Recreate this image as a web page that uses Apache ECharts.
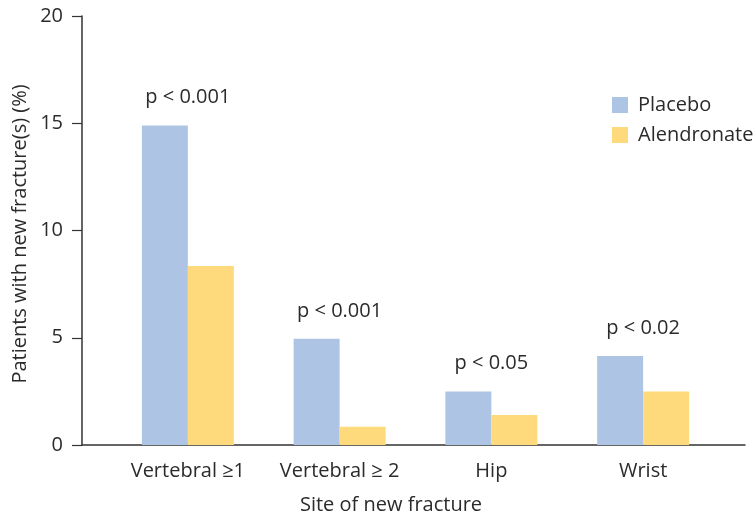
<!DOCTYPE html>
<html>
<head>
<meta charset="utf-8">
<script src="https://cdn.jsdelivr.net/npm/echarts@6/dist/echarts.min.js"></script>
<style>
  html, body { margin: 0; padding: 0; background: #fff; }
  #chart { width: 756px; height: 517px; }
</style>
</head>
<body>
<div id="chart"></div>
<script>
// Fracture sites and percentages of patients with new fractures
const categories = ['Vertebral \u22651', 'Vertebral \u2265 2', 'Hip', 'Wrist'];
const placebo = [14.9, 4.95, 2.5, 4.15];
const alendronate = [8.35, 0.85, 1.4, 2.5];
const pLabels = ['p < 0.001', 'p < 0.001', 'p < 0.05', 'p < 0.02'];
const yTicks = [0, 5, 10, 15, 20];

const FONT = '"Open Sans", "Noto Sans", sans-serif';
const TEXT = '#2b2b2b';
const FS = 20;

const chart = echarts.init(document.getElementById('chart'), null, { renderer: 'canvas' });

chart.setOption({
  animation: false,
  backgroundColor: '#ffffff',
  textStyle: { fontFamily: FONT, color: TEXT },
  grid: [
    // plotting area for the bars
    { left: 112, right: 37, top: 16, bottom: 72 },
    // full-width frame used for the horizontal baseline
    { left: 82, right: 11, top: 16, bottom: 72 }
  ],
  legend: {
    data: ['Placebo', 'Alendronate'],
    orient: 'vertical',
    left: 607,
    top: 90,
    itemWidth: 16,
    itemHeight: 16,
    itemGap: 10,
    icon: 'rect',
    textStyle: { fontFamily: FONT, fontSize: FS, color: TEXT, padding: [0, 0, 0, 5] }
  },
  xAxis: [
    {
      type: 'category',
      gridIndex: 0,
      data: categories,
      axisLine: { show: false },
      axisTick: { show: false },
      axisLabel: {
        interval: 0,
        hideOverlap: false,
        fontFamily: FONT,
        fontSize: FS,
        color: TEXT,
        margin: 16
      }
    },
    {
      type: 'value',
      gridIndex: 1,
      min: 0,
      max: 1,
      axisLine: { show: true, lineStyle: { color: '#333333', width: 1.5 } },
      axisTick: { show: false },
      axisLabel: { show: false },
      splitLine: { show: false }
    }
  ],
  yAxis: [
    {
      type: 'value',
      gridIndex: 0,
      min: yTicks[0],
      max: yTicks[yTicks.length - 1],
      interval: 5,
      offset: 30,
      axisLine: { show: true, lineStyle: { color: '#333333', width: 1.5 } },
      axisTick: { show: true, length: 10, lineStyle: { color: '#333333', width: 1.2 } },
      axisLabel: { fontFamily: FONT, fontSize: FS, color: TEXT, margin: 19 },
      splitLine: { show: false }
    },
    {
      type: 'value',
      gridIndex: 1,
      min: 0,
      max: 1,
      show: false
    }
  ],
  series: [
    {
      name: 'Placebo',
      type: 'bar',
      xAxisIndex: 0,
      yAxisIndex: 0,
      data: placebo,
      barWidth: 46,
      barGap: '0%',
      itemStyle: { color: '#aec4e5' }
    },
    {
      name: 'Alendronate',
      type: 'bar',
      xAxisIndex: 0,
      yAxisIndex: 0,
      data: alendronate,
      barWidth: 46,
      barGap: '0%',
      itemStyle: { color: '#ffda7d' }
    },
    {
      // significance annotations above each site
      name: 'p',
      type: 'scatter',
      xAxisIndex: 0,
      yAxisIndex: 0,
      data: placebo,
      symbolSize: 0,
      silent: true,
      itemStyle: { opacity: 1 },
      label: {
        show: true,
        position: 'inside',
        offset: [0, -28],
        fontFamily: FONT,
        fontSize: FS,
        color: TEXT,
        opacity: 1,
        formatter: (p) => pLabels[p.dataIndex]
      }
    }
  ],
  graphic: [
    {
      type: 'text',
      x: 20,
      y: 234,
      rotation: Math.PI / 2,
      style: {
        text: 'Patients with new fracture(s) (%)',
        font: FS + 'px ' + FONT,
        fill: TEXT,
        textAlign: 'center',
        textVerticalAlign: 'middle'
      }
    },
    {
      type: 'text',
      x: 391,
      y: 505,
      style: {
        text: 'Site of new fracture',
        font: FS + 'px ' + FONT,
        fill: TEXT,
        textAlign: 'center',
        textVerticalAlign: 'middle'
      }
    }
  ]
});
</script>
</body>
</html>
